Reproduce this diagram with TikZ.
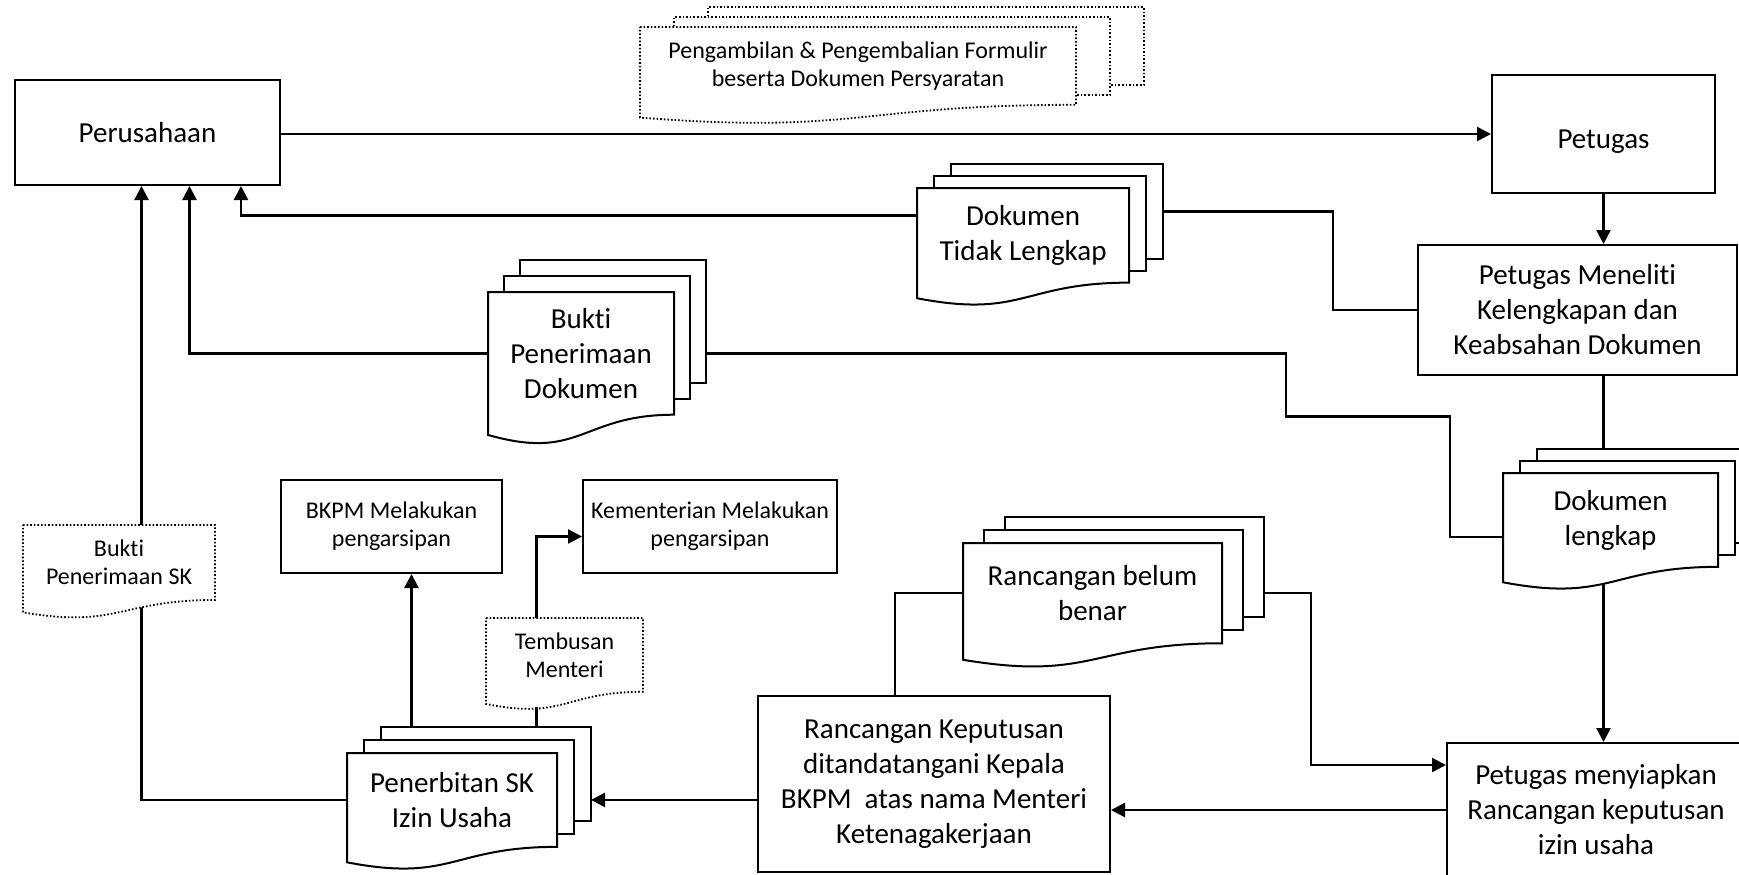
\documentclass[tikz,border=0pt]{standalone}
\usepackage{fontspec}
\setmainfont{Carlito}[Ligatures=NoCommon]
\usetikzlibrary{arrows.meta}

\tikzset{
  procbox/.style={draw, line width=1pt, inner sep=0pt, align=center},
  bigfont/.style={font=\fontsize{14.5}{17.5}\selectfont},
  smallfont/.style={font=\fontsize{12}{14}\selectfont},
  solidpage/.style={line width=1pt, bigfont},
  dotpage/.style={line width=0.9pt, dash pattern=on 0.8pt off 1pt, smallfont},
  page/.style={draw, fill=white, anchor=north west, inner sep=0pt, outer sep=0pt},
  arrowline/.style={line width=1.2pt, -{Triangle[length=7pt,width=7pt]}},
  plainline/.style={line width=1.2pt}
}

% document page: name, left, top, width, height, style, text
\newcommand{\docpage}[7]{%
  \draw[#6, fill=white] (#2,#3) -- (#2+#4,#3) -- (#2+#4,#3+0.802*#5)
    .. controls (#2+0.5*#4,#3+0.802*#5) and (#2+0.5*#4,#3+1.108*#5) .. (#2,#3+0.934*#5) -- cycle;
  \node[#6, inner sep=0pt, outer sep=0pt, align=center, anchor=north west,
    minimum width=#4*0.5pt, minimum height=0.802*#5*0.5pt] (#1) at (#2,#3) {#7};
}
% stacked pages: name, left, top, width, height, dx, dy, style, text
\newcommand{\docstack}[9]{%
  \node[page, #8, minimum width=#4*0.5pt, minimum height=0.802*#5*0.5pt] (#1-back) at (#2+2*#6,#3-2*#7) {};
  \node[page, #8, minimum width=#4*0.5pt, minimum height=0.802*#5*0.5pt] (#1-mid) at (#2+#6,#3-#7) {};
  \docpage{#1}{#2}{#3}{#4}{#5}{#8}{#9}
}

\begin{document}
\begin{tikzpicture}[x=0.5pt,y=0.5pt,yscale=-1,xscale=1]
\useasboundingbox (0,0) rectangle (1739,874);
\clip (0,0) rectangle (1739,874);

%Shape: Rectangle
\node[procbox, bigfont, minimum width=132.5pt, minimum height=52.5pt] (perusahaan) at (147.5,132.5) {Perusahaan};
\node[procbox, bigfont, minimum width=111.5pt, minimum height=59pt] (petugas) at (1603.5,134) {\raisebox{-4pt}[\height][\depth]{Petugas}};
\node[procbox, bigfont, minimum width=159.5pt, minimum height=65pt] (teliti) at (1577.5,310) {Petugas Meneliti\\Kelengkapan dan\\Keabsahan Dokumen};
\node[procbox, bigfont, minimum width=149pt, minimum height=67pt] (siapkan) at (1596,810) {Petugas menyiapkan\\Rancangan keputusan\\izin usaha};
\node[procbox, bigfont, minimum width=176pt, minimum height=88pt] (rkep) at (934,784) {Rancangan Keputusan\\ditandatangani Kepala\\BKPM~ atas nama Menteri\\Ketenagakerjaan};
\node[procbox, smallfont, minimum width=110.5pt, minimum height=46.5pt] (bkpm) at (391.5,526.5) {BKPM Melakukan\\pengarsipan};
\node[procbox, smallfont, minimum width=127pt, minimum height=46.5pt] (kemen) at (710,526.5) {Kementerian Melakukan\\pengarsipan};

%Shape: Documents
\docstack{formulir}{640}{27}{436}{97}{34}{10}{dotpage}{Pengambilan \& Pengembalian Formulir\\beserta Dokumen Persyaratan}
\docstack{tidak}{917}{188}{212}{118}{17}{12}{solidpage}{Dokumen\\Tidak Lengkap}
\docstack{bukti}{488}{292}{186}{153}{16}{16}{solidpage}{Bukti\\Penerimaan\\Dokumen}
\docstack{lengkap}{1503}{473}{215}{117}{17}{12}{solidpage}{Dokumen\\lengkap}
\docstack{belum}{963}{543}{259}{125}{21}{13}{solidpage}{Rancangan belum\\benar}
\docstack{terbit}{347}{753}{210}{117}{17}{13}{solidpage}{Penerbitan SK\\Izin Usaha}
\docpage{tembusan}{486}{618}{157}{92}{dotpage}{Tembusan\\Menteri}

%Straight Lines
\draw[arrowline] (perusahaan.east |- petugas.west) -- (petugas.west);
\draw[arrowline] (petugas.south) -- (petugas.south |- teliti.north);
\draw[plainline] (teliti.west) -- ++(-84,0) |- (tidak-back.east);
\draw[arrowline] ([yshift=-10pt]tidak.west) -| ([xshift=-20pt]perusahaan.south east);
\draw[arrowline] (bukti.west) -| ([xshift=21pt]perusahaan.south);
\draw[plainline] (bukti.west -| bukti-back.east) -- ++(580,0) -- ++(0,63) -- ++(164,0) |- ([yshift=8.5pt]lengkap.west);
\draw[plainline] (petugas.south |- teliti.south) -- (petugas.south |- lengkap-back.north);
\draw[arrowline] (petugas.south |- lengkap.south) ++(0,17) -- (petugas.south |- siapkan.north);
\draw[plainline] (belum.west) -| ([xshift=-19.5pt]rkep.north);
\draw[arrowline] (belum.west -| belum-back.east) -- ++(47,0) |- ([yshift=-22.5pt]siapkan.west);
\draw[arrowline] (siapkan.west) -- (siapkan.west -| rkep.east);
\draw[arrowline] (rkep.west |- terbit.west) -- (terbit.west -| terbit-back.east);
\draw[arrowline] (terbit.west) -| ([xshift=-3pt]perusahaan.south);
\coordinate (arsip) at ([xshift=10pt]bkpm.south);
\draw[arrowline] (arsip |- terbit-back.north) -- (arsip);
\coordinate (tembus) at ([xshift=-14pt]tembusan.north);
\draw[plainline] (tembus |- tembusan.south) ++(0,15) -- (tembus |- terbit-back.north);
\draw[arrowline] (tembus) |- ([yshift=5pt]kemen.west);

% Text Node on the line
\docpage{buktisk}{23}{525}{192}{93.5}{dotpage}{Bukti\\Penerimaan SK}

\end{tikzpicture}
\end{document}
